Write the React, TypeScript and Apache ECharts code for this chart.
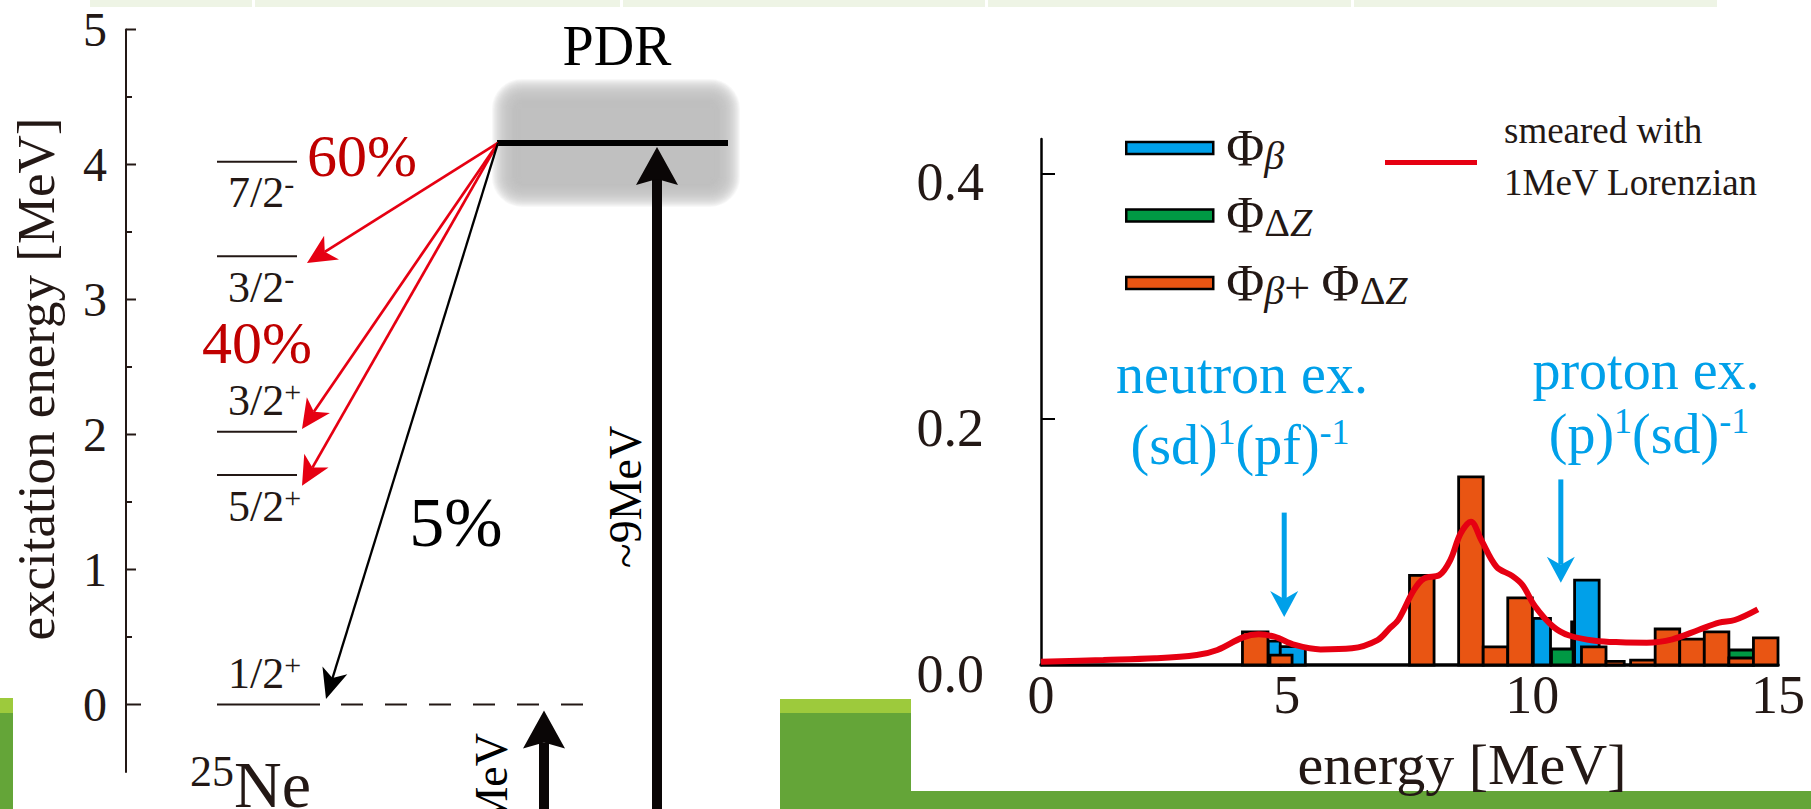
import React, { useEffect, useRef } from "react";
import * as echarts from "echarts";

const SERIF = '"Liberation Serif", "Times New Roman", Times, serif';
const INK = "#231815";
const RED = "#e60012";
const DARK_RED = "#c00000";
const CYAN = "#00a0e9";
const GREEN = "#009944";
const ORANGE = "#e95513";

// ---- 25Ne level scheme (MeV) ----
const levelEnergies = [0, 1.7, 2.02, 3.32, 4.02];
const levelSpins = ["1/2", "5/2", "3/2", "3/2", "7/2"];
const levelParities = ["+", "+", "+", "-", "-"];
const pdrEnergy = 4.16;
const energyTicks = [0, 1, 2, 3, 4, 5];
const energyMinorTicks = [0.5, 1.5, 2.5, 3.5, 4.5];

// gamma branches out of the PDR: end point of each arrow (MeV)
const redBranchEnds = [3.27, 2.04, 1.62];
const groundBranchEnd = 0.04;
const branchLabels = ["60%", "40%", "5%"];

// ---- strength distribution: [from MeV, to MeV, strength] ----
const phiBeta = [
  [4.62, 4.87, 0.0195],
  [4.87, 5.38, 0.015],
  [10.02, 10.37, 0.038],
  [10.8, 10.86, 0.035],
  [10.86, 11.36, 0.069],
];
const phiDeltaZ = [
  [10.39, 10.83, 0.013],
  [14.0, 14.5, 0.0122],
];
const phiSum = [
  [4.1, 4.62, 0.027],
  [4.66, 5.11, 0.008],
  [7.5, 8.0, 0.073],
  [8.5, 9.0, 0.153],
  [9.0, 9.5, 0.0147],
  [9.5, 10.0, 0.0546],
  [11.0, 11.5, 0.0147],
  [11.5, 11.87, 0.003],
  [12.0, 12.5, 0.004],
  [12.5, 13.0, 0.0293],
  [13.0, 13.5, 0.021],
  [13.5, 14.0, 0.027],
  [14.0, 14.5, 0.0057],
  [14.5, 15.0, 0.022],
];
// strength smeared with a 1 MeV Lorentzian: [MeV, strength]
const smeared = [
  [0.0, 0.0027], [1.27, 0.0041], [2.32, 0.0054], [3.17, 0.0081], [3.59, 0.0122],
  [4.11, 0.0225], [4.43, 0.025], [4.75, 0.023], [5.17, 0.0163], [5.69, 0.0127],
  [6.33, 0.0136], [6.85, 0.0203], [7.1, 0.03], [7.27, 0.0366], [7.59, 0.061],
  [7.8, 0.0705], [8.11, 0.0732], [8.33, 0.0854], [8.54, 0.107], [8.75, 0.1166],
  [8.96, 0.1017], [9.27, 0.08], [9.59, 0.0725], [9.8, 0.0651], [10.05, 0.048],
  [10.43, 0.031], [10.75, 0.024], [11.27, 0.0198], [11.8, 0.0185], [12.33, 0.0182],
  [12.85, 0.0209], [13.38, 0.0285], [13.8, 0.0345], [14.12, 0.0366], [14.59, 0.0453],
];
// annotation arrows: [MeV, top strength, tip strength]
const configArrows = [
  [4.95, 0.124, 0.039],
  [10.58, 0.151, 0.067],
];

const seriesNames = ["Φβ", "ΦΔZ", "Φβ+ ΦΔZ"];
const smearedName = "smeared with\n1MeV Lorenzian";

function arrowShapes(
  from: number[],
  tip: number[],
  headLen: number,
  headHalf: number,
  notch: number,
  color: string,
  width: number
) {
  const dx = tip[0] - from[0];
  const dy = tip[1] - from[1];
  const L = Math.hypot(dx, dy) || 1;
  const ux = dx / L;
  const uy = dy / L;
  const nx = -uy;
  const ny = ux;
  const bx = tip[0] - ux * headLen;
  const by = tip[1] - uy * headLen;
  const mx = tip[0] - ux * (headLen - notch);
  const my = tip[1] - uy * (headLen - notch);
  return [
    {
      type: "line",
      shape: { x1: from[0], y1: from[1], x2: mx, y2: my },
      style: { stroke: color, lineWidth: width },
    },
    {
      type: "polygon",
      shape: {
        points: [
          [tip[0], tip[1]],
          [bx + nx * headHalf, by + ny * headHalf],
          [mx, my],
          [bx - nx * headHalf, by - ny * headHalf],
        ],
      },
      style: { fill: color },
    },
  ];
}

function barSeries(name: string, data: number[][], color: string, z: number) {
  return {
    name,
    type: "custom",
    xAxisIndex: 1,
    yAxisIndex: 1,
    z,
    itemStyle: { color },
    encode: { x: [0, 1], y: 2 },
    data,
    renderItem: (params: any, api: any) => {
      const a = api.coord([api.value(0), 0]);
      const b = api.coord([api.value(1), api.value(2)]);
      return {
        type: "rect",
        shape: { x: a[0], y: b[1], width: b[0] - a[0], height: a[1] - b[1] },
        style: { fill: color, stroke: "#000", lineWidth: 2.8 },
      };
    },
  };
}

const supRich = (size: number, sup: number, lh: number) => ({
  m: { fontFamily: SERIF, fontSize: size, lineHeight: lh },
  s: { fontFamily: SERIF, fontSize: sup, lineHeight: sup, verticalAlign: "top" },
});

function buildOption() {
  const levelLabelAbove = [true, false, true, false, false];
  const redTipX = [307, 302, 302];

  return {
    animation: false,
    backgroundColor: "#ffffff",
    grid: [
      { left: 126, top: 29.5, width: 1685, height: 742.5 },
      { left: 1041, top: 139, width: 737, height: 526 },
    ],
    xAxis: [
      { type: "value", gridIndex: 0, min: 126, max: 1811, show: false },
      {
        type: "value",
        gridIndex: 1,
        min: 0,
        max: 15,
        interval: 5,
        axisLine: { show: true, lineStyle: { color: "#000", width: 3.5 } },
        axisTick: { show: false },
        splitLine: { show: false },
        axisLabel: { fontFamily: SERIF, fontSize: 54, color: INK, margin: 3 },
      },
    ],
    yAxis: [
      {
        type: "value",
        gridIndex: 0,
        min: -0.5,
        max: 5,
        interval: 0.5,
        axisLine: { show: true, lineStyle: { color: INK, width: 2 } },
        axisTick: { show: false },
        splitLine: { show: false },
        axisLabel: {
          fontFamily: SERIF,
          fontSize: 48,
          color: INK,
          margin: 19,
          formatter: (v: number) => (Number.isInteger(v) && v >= 0 ? String(v) : ""),
        },
      },
      {
        type: "value",
        gridIndex: 1,
        min: 0,
        max: 0.428,
        interval: 0.2,
        axisLine: { show: true, lineStyle: { color: "#000", width: 2.5 } },
        axisTick: { show: true, inside: true, length: 14, lineStyle: { color: "#000", width: 2 } },
        splitLine: { show: false },
        axisLabel: {
          fontFamily: SERIF,
          fontSize: 54,
          color: INK,
          margin: 57,
          verticalAlign: "top",
          lineHeight: 18,
          formatter: (v: number) => v.toFixed(1),
        },
      },
    ],
    legend: [
      {
        data: [
          { name: seriesNames[0], itemStyle: { color: CYAN } },
          { name: seriesNames[1], itemStyle: { color: GREEN } },
          { name: seriesNames[2], itemStyle: { color: ORANGE } },
        ],
        orient: "vertical",
        left: 1120,
        top: 117,
        itemWidth: 87,
        itemHeight: 12,
        itemGap: 14.5,
        icon: "rect",
        selectedMode: false,
        itemStyle: { borderColor: "#000", borderWidth: 2.5 },
        formatter: (name: string) =>
          name === seriesNames[0]
            ? "{p|Φ}{b|β}"
            : name === seriesNames[1]
            ? "{p|Φ}{d|Δ}{z|Z}"
            : "{p|Φ}{b|β}{o|+ }{p|Φ}{d|Δ}{z|Z}",
        textStyle: {
          fontFamily: SERIF,
          color: INK,
          padding: [0, 0, 0, 8],
          rich: {
            p: { fontFamily: SERIF, fontSize: 52, lineHeight: 54, color: INK },
            o: { fontFamily: SERIF, fontSize: 46, lineHeight: 50, verticalAlign: "bottom", color: INK },
            b: { fontFamily: SERIF, fontSize: 40, fontStyle: "italic", lineHeight: 28, verticalAlign: "bottom", color: INK },
            d: { fontFamily: SERIF, fontSize: 40, lineHeight: 28, verticalAlign: "bottom", color: INK },
            z: { fontFamily: SERIF, fontSize: 40, fontStyle: "italic", lineHeight: 28, verticalAlign: "bottom", color: INK },
          },
        },
      },
      {
        data: [{ name: smearedName, itemStyle: { color: RED } }],
        left: 1380,
        top: 107,
        itemWidth: 92,
        itemHeight: 5,
        icon: "rect",
        selectedMode: false,
        itemStyle: { borderWidth: 0 },
        // a short empty last line lifts the two text lines relative to the line icon
        formatter: () => "{t|smeared with}\n{t|1MeV Lorenzian}\n{g| }",
        textStyle: {
          fontFamily: SERIF,
          color: INK,
          padding: [0, 0, 0, 22],
          rich: {
            t: { fontFamily: SERIF, fontSize: 37, lineHeight: 52, color: INK },
            g: { fontFamily: SERIF, fontSize: 6, lineHeight: 12, color: INK },
          },
        },
      },
    ],
    series: [
      // blurred PDR band, built from stacked translucent layers
      {
        type: "custom",
        xAxisIndex: 0,
        yAxisIndex: 0,
        z: 1,
        silent: true,
        data: [[0, pdrEnergy]],
        renderItem: (params: any, api: any) => {
          const a = api.coord([522, api.value(1)]);
          const b = api.coord([710, api.value(1)]);
          const halfH = 34;
          const spread = 30;
          const layers = 30;
          const children: any[] = [];
          for (let k = 0; k < layers; k++) {
            const pad = spread - (k * spread) / (layers - 1);
            children.push({
              type: "rect",
              shape: {
                x: a[0] - pad,
                y: a[1] - halfH - pad,
                width: b[0] - a[0] + 2 * pad,
                height: 2 * halfH + 2 * pad,
                r: pad,
              },
              style: { fill: "#c1c3c3", opacity: 0.11 },
            });
          }
          return { type: "group", children };
        },
      },
      // energy axis ticks
      {
        type: "custom",
        xAxisIndex: 0,
        yAxisIndex: 0,
        z: 3,
        silent: true,
        data: [
          ...energyTicks.map((e) => [e === 0 ? 15 : 10, e]),
          ...energyMinorTicks.map((e) => [6, e]),
        ],
        renderItem: (params: any, api: any) => {
          const p = api.coord([126, api.value(1)]);
          return {
            type: "line",
            shape: { x1: p[0], y1: p[1], x2: p[0] + api.value(0), y2: p[1] },
            style: { stroke: INK, lineWidth: 2 },
          };
        },
      },
      // levels of 25Ne
      {
        type: "custom",
        xAxisIndex: 0,
        yAxisIndex: 0,
        z: 3,
        silent: true,
        data: levelEnergies.map((e, i) => [i, e]),
        renderItem: (params: any, api: any) => {
          const i = params.dataIndex;
          const e = api.value(1);
          const a = api.coord([217, e]);
          const b = api.coord([i === 0 ? 320 : 297, e]);
          const children: any[] = [
            {
              type: "line",
              shape: { x1: a[0], y1: a[1], x2: b[0], y2: b[1] },
              style: { stroke: INK, lineWidth: 2 },
            },
            {
              type: "text",
              x: a[0] + 11,
              y: a[1] + (levelLabelAbove[i] ? -31 : 31),
              style: {
                text: `{m|${levelSpins[i]}}{s|${levelParities[i]}}`,
                rich: supRich(44, 30, 48),
                fill: INK,
                align: "left",
                verticalAlign: "middle",
              },
            },
          ];
          if (i === 0) {
            const c = api.coord([341, e]);
            const d = api.coord([588, e]);
            children.push({
              type: "line",
              shape: { x1: c[0], y1: c[1], x2: d[0], y2: d[1] },
              style: { stroke: INK, lineWidth: 2, lineDash: [22, 22] },
            });
          }
          return { type: "group", children };
        },
      },
      // PDR level
      {
        type: "custom",
        xAxisIndex: 0,
        yAxisIndex: 0,
        z: 4,
        silent: true,
        data: [[0, pdrEnergy]],
        renderItem: (params: any, api: any) => {
          const a = api.coord([497, api.value(1)]);
          const b = api.coord([728, api.value(1)]);
          return {
            type: "line",
            shape: { x1: a[0], y1: a[1], x2: b[0], y2: b[1] },
            style: { stroke: "#000", lineWidth: 6 },
          };
        },
      },
      // gamma branches from the PDR
      {
        type: "custom",
        xAxisIndex: 0,
        yAxisIndex: 0,
        z: 5,
        silent: true,
        data: [...redBranchEnds.map((e, i) => [i, e]), [3, groundBranchEnd]],
        renderItem: (params: any, api: any) => {
          const i = params.dataIndex;
          const from = api.coord([498, pdrEnergy]);
          const isRed = i < redBranchEnds.length;
          const tip = api.coord([isRed ? redTipX[i] : 326, api.value(1)]);
          return {
            type: "group",
            children: isRed
              ? arrowShapes(from, tip, 29, 14, 8, RED, 2.7)
              : arrowShapes(from, tip, 30, 13, 8, "#000", 2.3),
          };
        },
      },
      // excitation arrows from below
      {
        type: "custom",
        xAxisIndex: 0,
        yAxisIndex: 0,
        z: 5,
        silent: true,
        data: [
          [657, pdrEnergy],
          [544, 0],
        ],
        renderItem: (params: any, api: any) => {
          const tip = api.coord([api.value(0), api.value(1)]);
          tip[1] += params.dataIndex === 0 ? 4 : 6;
          const from = [tip[0], 830];
          return { type: "group", children: arrowShapes(from, tip, 38, 21, 6, "#0a0606", 10) };
        },
      },
      barSeries(seriesNames[0], phiBeta, CYAN, 3),
      barSeries(seriesNames[1], phiDeltaZ, GREEN, 4),
      barSeries(seriesNames[2], phiSum, ORANGE, 5),
      {
        name: smearedName,
        type: "line",
        xAxisIndex: 1,
        yAxisIndex: 1,
        z: 6,
        smooth: 0.35,
        showSymbol: false,
        symbol: "none",
        itemStyle: { color: RED },
        lineStyle: { color: RED, width: 6 },
        data: smeared,
      },
      // neutron / proton excitation markers
      {
        type: "custom",
        xAxisIndex: 1,
        yAxisIndex: 1,
        z: 6,
        silent: true,
        data: configArrows,
        renderItem: (params: any, api: any) => {
          const from = api.coord([api.value(0), api.value(1)]);
          const tip = api.coord([api.value(0), api.value(2)]);
          return { type: "group", children: arrowShapes(from, tip, 26, 14, 8, CYAN, 5) };
        },
      },
    ],
    graphic: [
      // page decorations
      { type: "rect", shape: { x: 90, y: 0, width: 1627, height: 7 }, style: { fill: "#eef4e5" }, silent: true },
      ...[252, 620, 985, 1351].map((x) => ({
        type: "rect",
        shape: { x, y: 0, width: 3, height: 7 },
        style: { fill: "#ffffff" },
        silent: true,
      })),
      { type: "rect", shape: { x: 0, y: 698, width: 13, height: 15 }, style: { fill: "#9dca3c" }, silent: true },
      { type: "rect", shape: { x: 0, y: 713, width: 13, height: 96 }, style: { fill: "#64a538" }, silent: true },
      { type: "rect", shape: { x: 780, y: 699, width: 131, height: 14 }, style: { fill: "#9dca3c" }, silent: true },
      { type: "rect", shape: { x: 780, y: 713, width: 131, height: 96 }, style: { fill: "#64a538" }, silent: true },
      { type: "rect", shape: { x: 911, y: 791, width: 900, height: 18 }, style: { fill: "#64a538" }, silent: true },
      // axis titles
      {
        type: "text",
        x: 36,
        y: 379,
        rotation: Math.PI / 2,
        style: { text: "excitation energy [MeV]", fontFamily: SERIF, fontSize: 53, fill: INK, align: "center", verticalAlign: "middle" },
      },
      {
        type: "text",
        x: 1462,
        y: 764,
        style: { text: "energy [MeV]", fontFamily: SERIF, fontSize: 58, fill: INK, align: "center", verticalAlign: "middle" },
      },
      // branching labels
      {
        type: "text",
        x: 362,
        y: 156,
        style: { text: branchLabels[0], fontFamily: SERIF, fontSize: 60, fill: DARK_RED, align: "center", verticalAlign: "middle" },
      },
      {
        type: "text",
        x: 257,
        y: 343,
        style: { text: branchLabels[1], fontFamily: SERIF, fontSize: 60, fill: DARK_RED, align: "center", verticalAlign: "middle" },
      },
      {
        type: "text",
        x: 456,
        y: 522,
        style: { text: branchLabels[2], fontFamily: SERIF, fontSize: 70, fill: "#000", align: "center", verticalAlign: "middle" },
      },
      {
        type: "text",
        x: 617,
        y: 46,
        style: { text: "PDR", fontFamily: SERIF, fontSize: 56, fill: "#000", align: "center", verticalAlign: "middle" },
      },
      {
        type: "text",
        x: 625,
        y: 497,
        rotation: Math.PI / 2,
        style: { text: "~9MeV", fontFamily: SERIF, fontSize: 46, fill: "#000", align: "center", verticalAlign: "middle" },
      },
      {
        type: "text",
        x: 491,
        y: 733,
        rotation: Math.PI / 2,
        style: { text: "MeV", fontFamily: SERIF, fontSize: 46, fill: "#000", align: "right", verticalAlign: "middle" },
      },
      {
        type: "text",
        x: 190,
        y: 784,
        style: {
          text: "{s|25}{m|Ne}",
          rich: supRich(66, 44, 70),
          fill: INK,
          align: "left",
          verticalAlign: "middle",
        },
      },
      // excitation annotations
      {
        type: "text",
        x: 1242,
        y: 374,
        style: { text: "neutron ex.", fontFamily: SERIF, fontSize: 56, fill: CYAN, align: "center", verticalAlign: "middle" },
      },
      {
        type: "text",
        x: 1240,
        y: 445,
        style: {
          text: "{m|(sd)}{s|1}{m|(pf)}{s|-1}",
          rich: supRich(56, 36, 62),
          fill: CYAN,
          align: "center",
          verticalAlign: "middle",
        },
      },
      {
        type: "text",
        x: 1646,
        y: 370,
        style: { text: "proton ex.", fontFamily: SERIF, fontSize: 56, fill: CYAN, align: "center", verticalAlign: "middle" },
      },
      {
        type: "text",
        x: 1649,
        y: 434,
        style: {
          text: "{m|(p)}{s|1}{m|(sd)}{s|-1}",
          rich: supRich(56, 36, 62),
          fill: CYAN,
          align: "center",
          verticalAlign: "middle",
        },
      },
    ],
  };
}

export default function App() {
  const ref = useRef<HTMLDivElement>(null);
  useEffect(() => {
    if (!ref.current) return;
    const chart = echarts.init(ref.current, undefined, { renderer: "svg" });
    chart.setOption(buildOption() as any);
    return () => chart.dispose();
  }, []);
  return (
    <div
      ref={ref}
      style={{ position: "fixed", left: 0, top: 0, width: 1811, height: 809, background: "#ffffff" }}
    />
  );
}
